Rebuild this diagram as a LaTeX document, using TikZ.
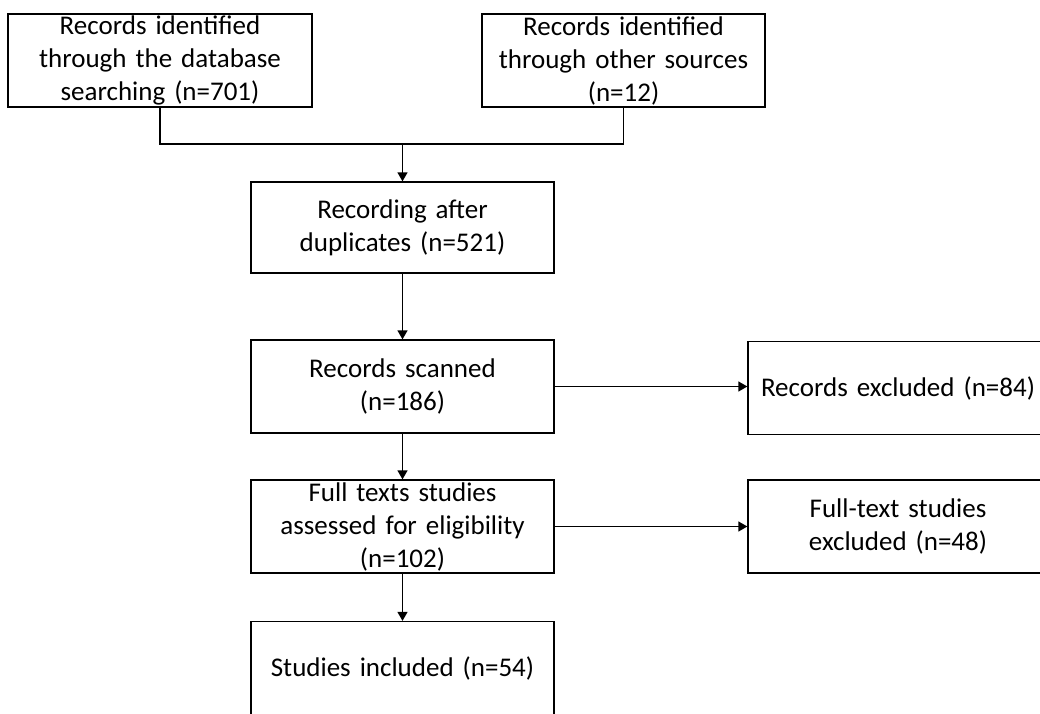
\documentclass[tikz,border=0pt]{standalone}
\usepackage{fontspec}
\setmainfont{Carlito}
\usepackage{tikz}
\usetikzlibrary{arrows.meta}
\tikzset{box/.style={draw,line width=1.3pt,inner sep=0pt,minimum height=93pt,align=center,font=\fontsize{27}{33}\selectfont}}
\tikzset{arr/.style={-{Triangle[length=9pt,width=10pt]},line width=1.3pt}}

\begin{document}
\begin{tikzpicture}[x=1pt,y=-1pt]
\clip (0,0) rectangle (1040,713);
\node[box,text width=304pt] (dbrec) at (160,60.5){Records identified\\through the database\\searching (n=701)};
\node[box,text width=283pt] (othrec) at (623.5,60.5){Records identified\\through other sources\\(n=12)};
\node[box,text width=303pt,minimum height=91pt] (dupl) at (402.5,227.5){Recording after\\duplicates (n=521)};
\node[box,text width=303pt] (scan) at (402.5,386.5){Records scanned\\(n=186)};
\node[box,text width=303pt] (full) at (402.5,526.5){Full texts studies\\assessed for eligibility\\(n=102)};
\node[box,text width=303pt] (incl) at (402.5,668){Studies included (n=54)};
\node[box,text width=300pt] (exrec) at (898,388){Records excluded (n=84)};
\node[box,text width=300pt] (exfull) at (898,526.5){Full-text studies\\excluded (n=48)};
\coordinate (join) at (402.5,144);
\draw[line width=1.3pt] (dbrec.south) |- (join);
\draw[line width=1.3pt] (othrec.south) |- (join);
\draw[arr] (join) -- (dupl.north);
\draw[arr] (dupl) -- (scan);
\draw[arr] (scan) -- (full);
\draw[arr] (full) -- (incl);
\draw[arr] (scan.east) -- (exrec.west |- scan.east);
\draw[arr] (full) -- (exfull);
\end{tikzpicture}
\end{document}
